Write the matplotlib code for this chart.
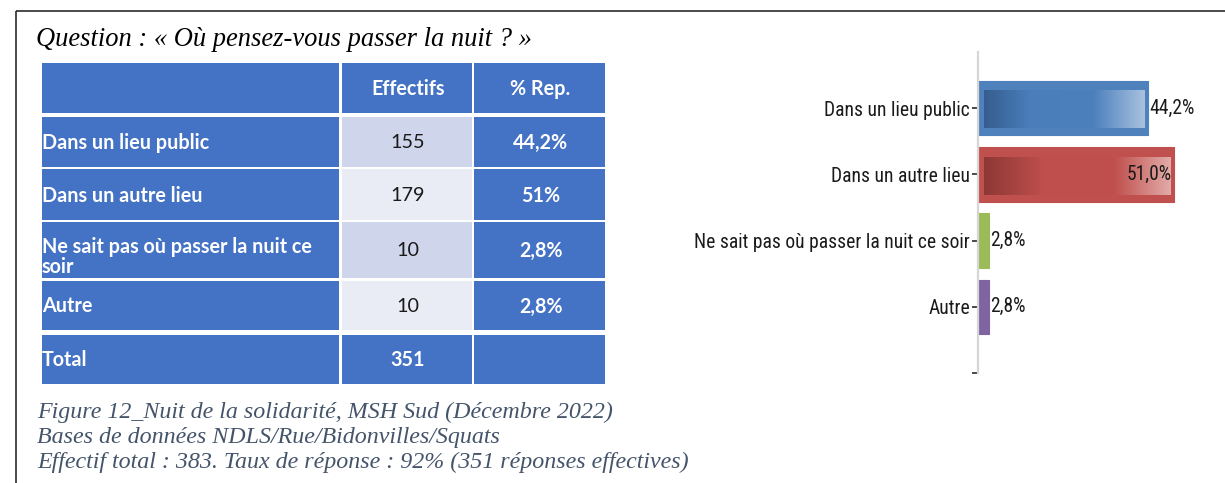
import numpy as np
import matplotlib
matplotlib.use("Agg")
import matplotlib.pyplot as plt
from matplotlib import font_manager
from matplotlib.font_manager import FontProperties
from matplotlib.patches import Rectangle
from matplotlib.colors import to_rgb

# ---------------- data ----------------
question = "Question : « Où pensez-vous passer la nuit ? »"
header = ["", "Effectifs", "% Rep."]
table_labels = ["Dans un lieu public", "Dans un autre lieu",
                "Ne sait pas où passer la nuit ce\nsoir", "Autre"]
effectifs = [155, 179, 10, 10]
pct_table = ["44,2%", "51%", "2,8%", "2,8%"]
total_label = "Total"
total_effectif = 351

categories = ["Dans un lieu public", "Dans un autre lieu",
              "Ne sait pas où passer la nuit ce soir", "Autre"]
pct_values = [44.2, 51.0, 2.8, 2.8]
pct_labels = ["44,2%", "51,0%", "2,8%", "2,8%"]

caption_lines = ["Figure 12_Nuit de la solidarité, MSH Sud (Décembre 2022)",
                 "Bases de données NDLS/Rue/Bidonvilles/Squats",
                 "Effectif total : 383. Taux de réponse : 92% (351 réponses effectives)"]

# ---------------- fonts ----------------
ttf = font_manager.fontManager.ttflist
names = {f.name for f in ttf}
SANS = "Lato" if "Lato" in names else "DejaVu Sans"
SERIF = "Liberation Serif" if "Liberation Serif" in names else "DejaVu Serif"


def find_narrow():
    prefs = ["Liberation Sans Narrow", "Arial Narrow", "Roboto Condensed",
             "Open Sans Condensed", "Noto Sans Condensed", "DejaVu Sans Condensed"]
    regular = [f for f in ttf if f.style == "normal" and f.weight in (400, "normal", "regular")]
    for p in prefs:
        for f in regular:
            if f.name == p:
                return FontProperties(fname=f.fname)
    for key in ("Narrow", "Condensed", "SemiCondensed"):
        for f in ttf:
            base = f.fname.split("/")[-1]
            if key in base and "Bold" not in base and "Italic" not in base \
                    and "Oblique" not in base and "Light" not in base and "Black" not in base \
                    and "Thin" not in base and "Medium" not in base:
                return FontProperties(fname=f.fname)
    return None


NARROW_FP = find_narrow()
if NARROW_FP is None:
    NARROW_FP = FontProperties(family="Liberation Sans")
    NARROW_OK = False
else:
    NARROW_OK = True

W, H = 1225, 483
fig = plt.figure(figsize=(W / 100, H / 100), dpi=100)
fig.patch.set_facecolor("white")
doc = fig.add_axes([0, 0, 1, 1])
doc.set_xlim(0, W)
doc.set_ylim(H, 0)
doc.axis("off")
renderer = fig.canvas.get_renderer()


def fit(t, target_px):
    w = t.get_window_extent(renderer).width
    t.set_fontsize(t.get_fontsize() * target_px / w)
    return t.get_fontsize()


# page border (top & left)
doc.plot([15.5, W], [11, 11], color="#2b2b2b", lw=1.2, solid_capstyle="butt")
doc.plot([15.5, 15.5], [11, H], color="#2b2b2b", lw=1.2, solid_capstyle="butt")

# question
tq = doc.text(36, 40, question, family=SERIF, style="italic", fontsize=16,
              va="center", ha="left", color="black")
fit(tq, 497)

# ---------------- table ----------------
BLUE = "#4472C4"
LIGHT1 = "#CFD5EA"
LIGHT2 = "#E9EBF5"
cols = [(42, 339), (342, 472), (474, 605)]
rows = [(63, 113), (117, 167), (169, 220), (222, 278), (281, 330), (335, 384)]

probe = doc.text(0, 0, table_labels[0], family=SANS, weight="bold", fontsize=14)
tsize = fit(probe, 168)
probe.remove()

for ri, (r0, r1) in enumerate(rows):
    for ci, (c0, c1) in enumerate(cols):
        color = BLUE
        if ci == 1 and 1 <= ri <= 4:
            color = LIGHT1 if ri % 2 == 1 else LIGHT2
        doc.add_patch(Rectangle((c0, r0), c1 - c0, r1 - r0, facecolor=color,
                                edgecolor="none"))


def cy(ri):
    return (rows[ri][0] + rows[ri][1]) / 2 + 1


def cx(ci):
    return (cols[ci][0] + cols[ci][1]) / 2 + 1


for ci in (1, 2):
    doc.text(cx(ci), cy(0), header[ci], family=SANS, weight="bold", fontsize=tsize,
             color="white", ha="center", va="center")

for i in range(4):
    ri = i + 1
    ly = cy(ri) + (6 if "\n" in table_labels[i] else 0)
    doc.text(42, ly, table_labels[i], family=SANS, weight="bold", fontsize=tsize,
             color="white", ha="left", va="center", linespacing=0.95)
    doc.text(cx(1), cy(ri), str(effectifs[i]), family=SANS, fontsize=tsize,
             color="#1a1a1a", ha="center", va="center")
    doc.text(cx(2), cy(ri), pct_table[i], family=SANS, weight="bold", fontsize=tsize,
             color="white", ha="center", va="center")

doc.text(42, cy(5), total_label, family=SANS, weight="bold", fontsize=tsize,
         color="white", ha="left", va="center")
doc.text(cx(1), cy(5), str(total_effectif), family=SANS, weight="bold", fontsize=tsize,
         color="white", ha="center", va="center")

# ---------------- caption ----------------
cap_y = [412, 437, 462]
tc = doc.text(37, cap_y[0], caption_lines[0], family=SERIF, style="italic",
              fontsize=16, color="#44546A", ha="left", va="center")
csize = fit(tc, 577)
for line, y in zip(caption_lines[1:], cap_y[1:]):
    doc.text(37, y, line, family=SERIF, style="italic", fontsize=csize,
             color="#44546A", ha="left", va="center")

# ---------------- bar chart ----------------
AX_L, AX_TOP, AX_BOT = 978, 52, 373
PX_PER_UNIT = 3.85
XMAX = 60
ax_w = XMAX * PX_PER_UNIT
ax = fig.add_axes([AX_L / W, 1 - AX_BOT / H, ax_w / W, (AX_BOT - AX_TOP) / H])
ax.set_facecolor("none")
Y0, Y1 = -0.85, 4.0
ypx = (AX_BOT - AX_TOP) / (Y1 - Y0)
ax.set_xlim(0, XMAX)
ax.set_ylim(Y1, Y0)

bar_colors = ["#4F81BD", "#C0504D", "#9BBB59", "#8064A2"]
grad_stops = {
    0: [(0.0, "#365D8F"), (0.28, "#4A7DBA"), (0.68, "#4C80BD"), (1.0, "#A9C1DF")],
    1: [(0.0, "#8E3836"), (0.32, "#BE4F4C"), (0.70, "#C0504D"), (1.0, "#E2ABA9")],
}
bh = 0.82
ypos = np.arange(len(categories))
ax.barh(ypos, pct_values, height=bh, color=bar_colors, edgecolor=bar_colors,
        linewidth=0.8, zorder=2)

for i, stops in grad_stops.items():
    v = pct_values[i]
    pos = np.array([s[0] for s in stops])
    cols_rgb = np.array([to_rgb(s[1]) for s in stops])
    xs = np.linspace(0, 1, 256)
    img = np.stack([np.interp(xs, pos, cols_rgb[:, k]) for k in range(3)], axis=-1)[None, :, :]
    x0 = 6 / PX_PER_UNIT
    x1 = v - 4 / PX_PER_UNIT
    yt = ypos[i] - bh / 2 + 10 / ypx
    yb = ypos[i] + bh / 2 - 7 / ypx
    ax.imshow(img, extent=(x0, x1, yb, yt), aspect="auto", zorder=3,
              interpolation="bilinear")
ax.set_xlim(0, XMAX)
ax.set_ylim(Y1, Y0)

if NARROW_OK:
    probe = ax.text(0, 0, categories[2], fontproperties=NARROW_FP, fontsize=16)
    lsize = min(fit(probe, 276), 17)
    probe.remove()
else:
    lsize = 14.5

lab_fp = NARROW_FP.copy()
lab_fp.set_size(lsize)

ax.set_yticks(list(ypos) + [4])
ax.set_yticklabels(categories + [""], fontproperties=lab_fp, color="#1a1a1a")
ax.tick_params(axis="y", length=4.4, width=1.3, color="#3a3a3a", pad=1.2)
ax.set_xticks([])
for s in ("top", "right", "bottom"):
    ax.spines[s].set_visible(False)
ax.spines["left"].set_color("#D6D6D6")
ax.spines["left"].set_linewidth(1.6)

for i, (v, lab) in enumerate(zip(pct_values, pct_labels)):
    if v == max(pct_values):
        ax.text(v - 3 / PX_PER_UNIT, ypos[i], lab, fontproperties=lab_fp,
                color="#1a1a1a", ha="right", va="center", zorder=5)
    else:
        ax.text(v + 1.5 / PX_PER_UNIT, ypos[i], lab, fontproperties=lab_fp,
                color="#1a1a1a", ha="left", va="center", zorder=5)

fig.savefig("out.png", dpi=100, facecolor="white")
